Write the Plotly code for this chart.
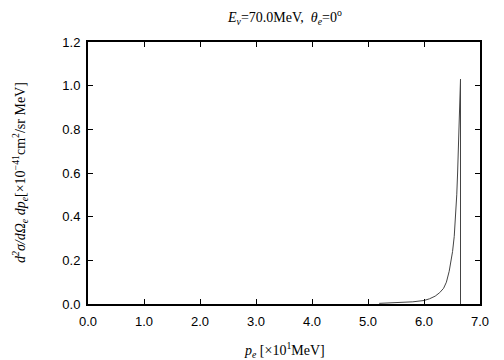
import plotly.graph_objects as go

# p_e in units of 10 MeV, cross section in 1e-41 cm^2/sr MeV
p_e = [5.2, 5.4, 5.6, 5.8, 6.0, 6.1, 6.2, 6.28, 6.35, 6.4, 6.45, 6.48, 6.51,
       6.54, 6.565, 6.585, 6.60, 6.615, 6.63, 6.645, 6.652, 6.652]
xsec = [0.003, 0.005, 0.007, 0.010, 0.016, 0.024, 0.036, 0.052, 0.072, 0.10,
        0.15, 0.19, 0.24, 0.31, 0.40, 0.50, 0.60, 0.72, 0.86, 1.0, 1.03, 0.0]

x_ticks = [0, 1, 2, 3, 4, 5, 6, 7]
x_labels = ["0.0", "1.0", "2.0", "3.0", "4.0", "5.0", "6.0", "7.0"]
y_ticks = [0, 0.2, 0.4, 0.6, 0.8, 1.0, 1.2]
y_labels = ["0.0", "0.2", "0.4", "0.6", "0.8", "1.0", "1.2"]

fig = go.Figure()
fig.add_trace(go.Scatter(x=p_e, y=xsec, mode="lines",
                         line=dict(color="#444444", width=1), showlegend=False))

axis_common = dict(showgrid=False, zeroline=False, showline=True, linecolor="black",
                   linewidth=2, mirror="ticks", ticks="inside", ticklen=5,
                   tickwidth=1, tickcolor="black",
                   tickfont=dict(family="Liberation Sans, Arial", size=13, color="black"))

fig.update_xaxes(range=[0, 7], tickvals=x_ticks, ticktext=x_labels,
                 ticklabelstandoff=4, **axis_common)
fig.update_yaxes(range=[0, 1.2], tickvals=y_ticks, ticktext=y_labels,
                 ticklabelstandoff=3, **axis_common)

serif = dict(family="Liberation Serif, Times New Roman", size=14, color="black")

fig.update_layout(
    width=504, height=360,
    margin=dict(l=88, r=24, t=42, b=56),
    paper_bgcolor="white", plot_bgcolor="white",
    annotations=[
        dict(text="<i>E<sub>ν</sub></i>=70.0MeV,  <i>θ<sub>e</sub></i>=0<sup>o</sup>",
             xref="paper", yref="paper", x=0.5, y=1, yshift=25, showarrow=False,
             font=serif, xanchor="center", yanchor="middle"),
        dict(text="<i>p<sub>e</sub></i> [×10<sup>1</sup>MeV]",
             xref="paper", yref="paper", x=0.5, y=0, yshift=-46, showarrow=False,
             font=serif, xanchor="center", yanchor="middle"),
        dict(text="<i>d<sup>2</sup>σ/dΩ<sub>e</sub> dp<sub>e</sub></i>[×10<sup>−41</sup>cm<sup>2</sup>/sr MeV]",
             xref="paper", yref="paper", x=0, y=0.5, xshift=-68, showarrow=False,
             textangle=-90, font=serif, xanchor="center", yanchor="middle"),
    ],
)

fig.write_html("out.html")
